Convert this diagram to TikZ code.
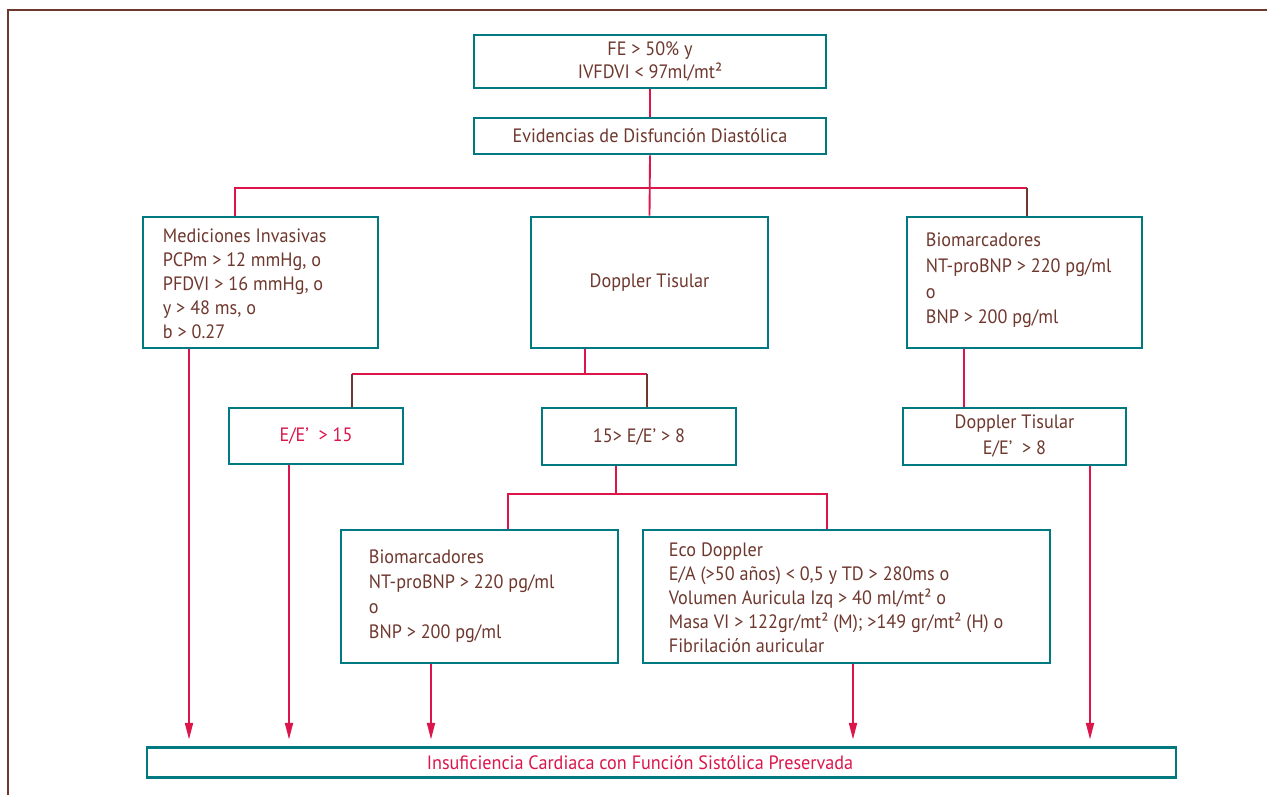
\documentclass[tikz,border=0pt]{standalone}
\usepackage{fontspec}
\setmainfont[FakeStretch=0.94]{PT Sans}
\usetikzlibrary{arrows.meta,calc}
\definecolor{teal0}{RGB}{0,122,128}
\definecolor{crim}{RGB}{220,22,75}
\definecolor{brn}{RGB}{110,56,46}
\begin{document}
\begin{tikzpicture}[x=0.75pt,y=-0.75pt,
  box/.style={draw=teal0, line width=2pt, fill=white, text=brn, font=\fontsize{14.5}{17.5}\selectfont, inner sep=0pt, align=center},
  txt/.style={text=brn, font=\fontsize{14.5}{18}\selectfont, inner sep=0pt, align=left, anchor=west},
  rl/.style={draw=crim, line width=1.4pt, line join=miter},
  bl/.style={draw=brn, line width=1.4pt},
  arr/.style={rl, -{Triangle[length=12.5pt,width=6pt]}, shorten >=5pt},
]
\useasboundingbox (0,0) rectangle (1267,795);
\draw[brn, line width=1.6pt] (8,795) -- (8,10) -- (1267,10);

% boxes
\node[box, minimum width=264pt, minimum height=39.75pt] (top) at (650,61.5) {FE > 50\% y\\IVFDVI < 97ml/mt²};
\node[box, minimum width=264pt, minimum height=27pt] (evid) at (650,136) {Evidencias de Disfunción Diastólica};
\node[box, minimum width=176.25pt, minimum height=98.25pt] (med) at (260.5,282.5) {};
\node[box, minimum width=177.75pt, minimum height=98.25pt] (dop) at (649.5,282.5) {Doppler Tisular};
\node[box, minimum width=176.25pt, minimum height=98.25pt] (bio1) at (1024.5,282.5) {};
\node[box, minimum width=130.5pt, minimum height=42pt, text=crim] (e15) at (316,436) {E/E’\ \ > 15};
\node[box, minimum width=145.5pt, minimum height=42.75pt] (e8) at (639,436.5) {15> E/E’ > 8};
\node[box, minimum width=167.25pt, minimum height=42.75pt, font=\fontsize{14.5}{19.5}\selectfont] (dop2) at (1014.5,436.5) {Doppler Tisular\\E/E’\ \ > 8};
\node[box, minimum width=207.75pt, minimum height=99.75pt] (bio2) at (479.5,596.5) {};
\node[box, minimum width=305.25pt, minimum height=99.75pt] (eco) at (846.5,596.5) {};
\node[box, minimum width=771.75pt, minimum height=22.5pt] (bot) at (661.5,762.5) {};

% texts of left-aligned boxes
\node[txt] (medt) at ($(med.west)+(21,1)$) {Mediciones Invasivas\\PCPm > 12 mmHg, o\\PFDVI > 16 mmHg, o\\y > 48 ms, o\\b > 0.27};
\node[txt, font=\fontsize{14.5}{19.3}\selectfont] (bio1t) at ($(bio1.west)+(20,-2)$) {Biomarcadores\\NT-proBNP > 220 pg/ml\\o\\BNP > 200 pg/ml};
\node[txt, font=\fontsize{14.5}{18.8}\selectfont] (bio2t) at ($(bio2.west)+(29,0)$) {Biomarcadores\\NT-proBNP > 220 pg/ml\\o\\BNP > 200 pg/ml};
\node[txt] (ecot) at ($(eco.west)+(27,1)$) {Eco Doppler\\E/A (>50 años) < 0,5 y TD > 280ms o\\Volumen Auricula Izq > 40 ml/mt² o\\Masa VI > 122gr/mt² (M); >149 gr/mt² (H) o\\Fibrilación auricular};
\node[txt, text=crim, anchor=center] (bott) at (640,763) {Insuficiencia Cardiaca con Función Sistólica Preservada};

% connector coordinates
\coordinate (hl) at (235,188);
\coordinate (hr) at (1027,188);
\coordinate (dl) at (352,374);
\coordinate (dr) at (647,374);
\coordinate (dm) at (585,374);
\coordinate (el) at (508,494);
\coordinate (er) at (827,494);
\coordinate (em) at (616,494);
\coordinate (xb) at (964,0);
\coordinate (a1) at (189,0);
\coordinate (a2) at (289,0);
\coordinate (a3) at (431,0);
\coordinate (a4) at (853,0);
\coordinate (a5) at (1090,0);

% connectors
\draw[rl] (top.south) -- (evid.north);
\draw[rl] (evid.south) -- (dop.north);
\draw[rl] (med.north -| hl) -- (hl) -- (hr);
\draw[bl] (hr) -- (bio1.north -| hr);
\draw[rl] (dop.south -| dm) -- (dm);
\draw[rl] (dl) -- (dr);
\draw[bl] (dl) -- (e15.north -| dl);
\draw[bl] (dr) -- (e8.north -| dr);
\draw[rl] (e8.south -| em) -- (em);
\draw[rl] (bio2.north -| el) -- (el) -- (er) -- (eco.north -| er);
\draw[rl] (bio1.south -| xb) -- (dop2.north -| xb);

% arrows
\draw[arr] (med.south -| a1) -- (bot.north -| a1);
\draw[arr] (e15.south -| a2) -- (bot.north -| a2);
\draw[arr] (bio2.south -| a3) -- (bot.north -| a3);
\draw[arr] (eco.south -| a4) -- (bot.north -| a4);
\draw[arr] (dop2.south -| a5) -- (bot.north -| a5);
\end{tikzpicture}
\end{document}
